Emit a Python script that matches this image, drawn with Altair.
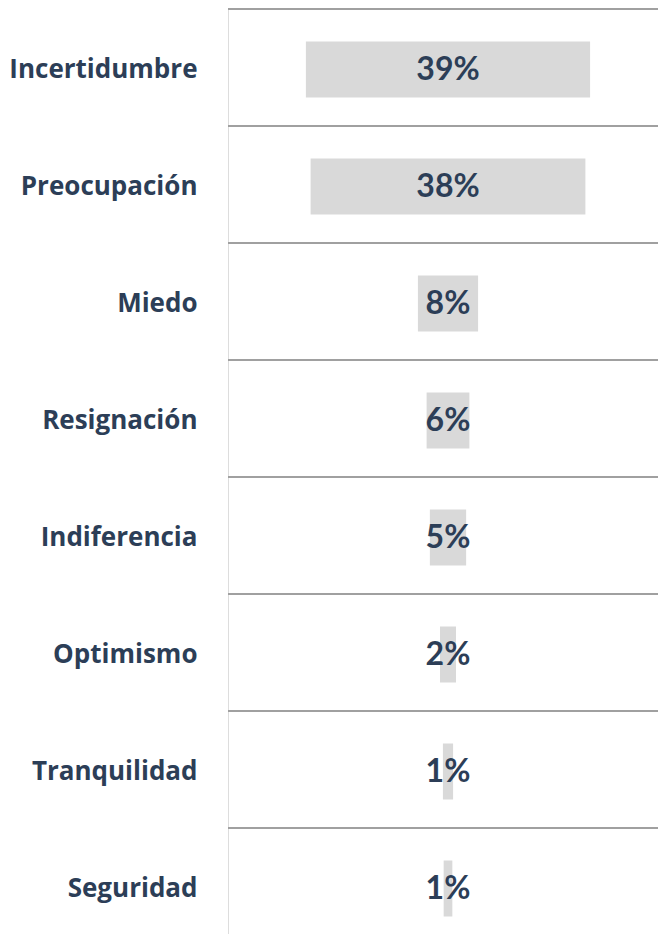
import altair as alt
import pandas as pd

categories = ["Incertidumbre", "Preocupación", "Miedo", "Resignación",
              "Indiferencia", "Optimismo", "Tranquilidad", "Seguridad"]
values = [39.2, 37.9, 8.3, 5.9, 5.0, 2.2, 1.4, 1.2]

df = pd.DataFrame({"cat": categories, "val": values})
df["lo"] = -df["val"] / 2
df["hi"] = df["val"] / 2
df["frac"] = df["val"] / 100
df["zero"] = 0.0

NAVY = "#2C3E57"
W, H = 430, 926
ROW = 117
PX_PER_UNIT = 7.25
CENTER = 220
xdom = [-CENTER / PX_PER_UNIT, (W - CENTER) / PX_PER_UNIT]
yscale = alt.Scale(domain=categories, range=[3, 3 + ROW * len(categories)],
                   paddingInner=0, paddingOuter=0)
xscale = alt.Scale(domain=xdom, zero=False, nice=False)
yaxis = alt.Axis(title=None, domain=False, ticks=False, grid=False,
                 labelFont="Open Sans", labelFontWeight="bold",
                 labelFontSize=26, labelColor=NAVY, labelPadding=31,
                 labelLimit=300)

base = alt.Chart(df)

seps = base.mark_bar(color="#A0A0A0", size=2,
                     yOffset=-(ROW / 2) - 2).encode(
    y=alt.Y("cat:N", scale=yscale, sort=categories, axis=yaxis),
    x=alt.X("slo:Q", scale=xscale, axis=None),
    x2=alt.X2("shi:Q"),
).transform_calculate(slo=f"{xdom[0]}", shi=f"{xdom[1]}")

bars = base.mark_bar(color="#D9D9D9", size=56).encode(
    y=alt.Y("cat:N", scale=yscale, sort=categories, axis=yaxis),
    x=alt.X("lo:Q", scale=xscale, axis=None),
    x2="hi:Q",
)

labels = base.mark_text(font="Lato", fontWeight="bold", fontSize=32,
                        color=NAVY, baseline="middle", align="center").encode(
    y=alt.Y("cat:N", scale=yscale, sort=categories, axis=yaxis),
    x=alt.X("zero:Q", scale=xscale, axis=None),
    text=alt.Text("frac:Q", format=".0%"),
)

chart = alt.layer(seps, bars, labels).properties(
    width=W, height=H,
    autosize=alt.AutoSizeParams(type="none"),
    padding={"left": 220, "top": 0, "right": 0, "bottom": 0},
).configure_view(stroke="transparent", strokeWidth=0).configure_axis(
    domain=False, ticks=False, grid=False,
).configure(background="white")

chart.save("out.html", embed_options={"renderer": "svg", "actions": False})
